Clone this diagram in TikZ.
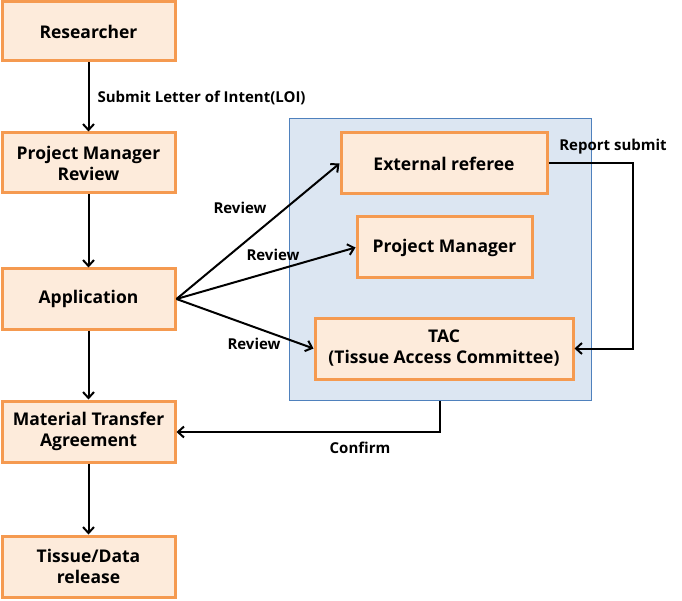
\documentclass[tikz,border=0pt]{standalone}
\usepackage{fontspec}
\setmainfont{Open Sans}
\usetikzlibrary{arrows.meta,positioning}
\definecolor{boxfill}{HTML}{FDEBDB}
\definecolor{boxline}{HTML}{F59A50}
\definecolor{grpfill}{HTML}{DCE6F2}
\definecolor{grpline}{HTML}{4F81BD}
\tikzset{
  stepbox/.style={draw=boxline, fill=boxfill, line width=3pt, align=center,
    font=\bfseries\fontsize{17.5}{21}\selectfont, inner sep=0pt},
  conn/.style={-{Straight Barb[length=6pt,width=11pt]}, line width=2pt, black},
  lbl/.style={font=\bfseries\fontsize{15}{17}\selectfont, inner sep=1pt}
}
\begin{document}
\begin{tikzpicture}[x=1pt,y=-1pt]
\useasboundingbox (0,0) rectangle (682,601);
% group box
\node[draw=grpline, fill=grpfill, line width=1.5pt, minimum width=302pt, minimum height=282pt, inner sep=0pt] (grp) at (440.5,259.5) {};
% left column
\node[stepbox, minimum width=173pt, minimum height=59pt] (res) at (88.5,31.5) {Researcher};
\node[stepbox, minimum width=173pt, minimum height=60pt] (pmr) at (88.5,163) {Project Manager\\Review};
\node[stepbox, minimum width=173pt, minimum height=60pt] (app) at (88.5,299) {Application};
\node[stepbox, minimum width=173pt, minimum height=61pt] (mta) at (88.5,431.5) {Material Transfer\\Agreement};
\node[stepbox, minimum width=173pt, minimum height=61pt] (rel) at (88.5,566.5) {Tissue/Data\\release};
% right group
\node[stepbox, minimum width=206pt, minimum height=61pt] (ext) at (444,163.5) {External referee};
\node[stepbox, minimum width=175pt, minimum height=61pt] (pm) at (444.5,247.5) {Project Manager};
\node[stepbox, minimum width=258pt, minimum height=61pt] (tac) at (444,348.5) {TAC\\(Tissue Access Committee)};
% connectors
\draw[conn] (res) -- node[lbl, right=7pt, pos=0.52]{Submit Letter of Intent(LOI)} (pmr);
\draw[conn] (pmr) -- (app);
\draw[conn] (app) -- (mta);
\draw[conn] (mta) -- (rel);
\coordinate (appr) at (app.east);
\draw[conn] (appr) -- (ext.west);
\draw[conn] (appr) -- (pm.west);
\draw[conn] (appr) -- (tac.west);
\node[lbl] (r1) at (240,208) {Review};
\node[lbl] (r2) at (273,255) {Review};
\node[lbl] (r3) at (254,344) {Review};
\coordinate (rs1) at (633,163.5);
\coordinate (rs2) at (633,348.5);
\draw[conn] (ext.east) -- (rs1) -- (rs2) -- (tac.east);
\node[lbl] (rsl) at (613,147) {Report submit};
\coordinate (cf1) at (440,432);
\draw[conn] (grp.south -| cf1) -- (cf1) -- (mta.east |- cf1);
\node[lbl] (cfl) at (360,448) {Confirm};
\end{tikzpicture}
\end{document}
